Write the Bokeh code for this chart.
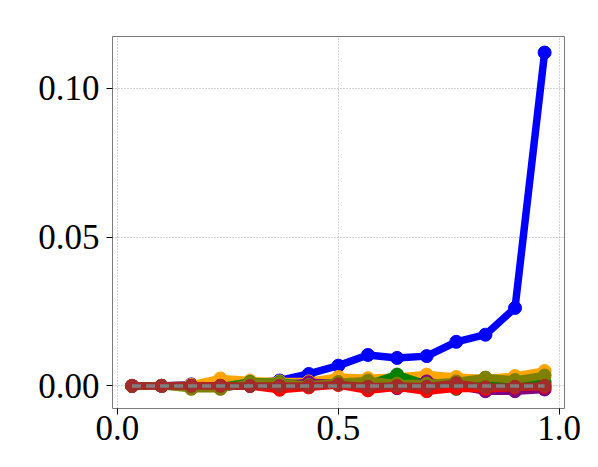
from bokeh.plotting import figure
from bokeh.models import Range1d, FixedTicker
from bokeh.embed import file_html
from bokeh.resources import INLINE

x = [0.033, 0.1, 0.167, 0.233, 0.3, 0.367, 0.433, 0.5, 0.567, 0.633, 0.7, 0.767, 0.833, 0.9, 0.967]
blue = [0.0, 0.0, 0.0005, -0.0008, 0.0008, 0.0018, 0.0040, 0.0068, 0.0104, 0.0094, 0.0100, 0.0148, 0.0172, 0.0262, 0.1120]
orange = [0.0, 0.0, 0.0003, 0.0025, 0.0018, 0.0015, 0.0015, 0.0030, 0.0026, 0.0030, 0.0038, 0.0030, 0.0025, 0.0033, 0.0050]
green = [0.0, 0.0, 0.0, -0.0003, 0.0013, 0.0012, 0.0005, 0.0012, 0.0005, 0.0038, 0.0005, -0.0010, 0.0005, 0.0008, 0.0012]
purple = [0.0, 0.0, 0.0, 0.0, 0.0, 0.0003, 0.0012, 0.0008, 0.0005, -0.0008, 0.0015, 0.0, -0.0018, -0.0018, -0.0012]
red = [0.0, 0.0, 0.0, 0.0, 0.0, -0.0013, -0.0005, 0.0003, -0.0015, -0.0005, -0.0018, -0.0008, -0.0010, -0.0005, -0.0003]
olive = [0.0, 0.0, -0.0010, -0.0010, 0.0011, 0.0010, 0.0003, 0.0012, 0.0018, 0.0008, 0.0008, 0.0015, 0.0028, 0.0020, 0.0035]
brown = [0.0, 0.0, 0.0, 0.0, 0.0, 0.0, 0.0, 0.0005, -0.0003, 0.0, -0.0003, 0.0009, -0.0005, -0.0003, 0.0]
baseline = [0.0, 0.0]
baseline_x = [x[0], x[-1]]

series = [
    (blue, "#0000ff"),
    (orange, "#ffa500"),
    (green, "#008000"),
    (purple, "#800080"),
    (red, "#ff0000"),
    (olive, "#808000"),
    (brown, "#a52a2a"),
]

xticks = [0.0, 0.5, 1.0]
yticks = [0.0, 0.05, 0.10]

p = figure(width=582, height=451, output_backend="svg", toolbar_location=None,
           x_range=Range1d(-0.0113, 1.012), y_range=Range1d(-0.0076, 0.1174),
           min_border_left=112, min_border_right=18, min_border_top=36, min_border_bottom=43)
p.background_fill_color = "white"
p.border_fill_color = "white"
p.outline_line_color = "#7a7a7a"
p.outline_line_width = 1

for ys, c in series:
    p.line(x, ys, line_color=c, line_width=7.5)
    p.scatter(x, ys, size=13, fill_color=c, line_color=c)

p.line(baseline_x, baseline, line_color="#808080", line_width=3.5, line_dash="9 5")

p.xaxis.ticker = FixedTicker(ticks=xticks)
p.yaxis.ticker = FixedTicker(ticks=yticks)
p.xaxis.major_label_overrides = {0.0: "0.0", 0.5: "0.5", 1.0: "1.0"}
p.yaxis.major_label_overrides = {0.0: "0.00", 0.05: "0.05", 0.1: "0.10"}
for ax in (p.xaxis, p.yaxis):
    ax.axis_line_color = None
    ax.major_tick_line_color = "black"
    ax.major_tick_out = 6
    ax.major_tick_in = 0
    ax.minor_tick_line_color = None
    ax.major_label_text_font = "Liberation Serif"
    ax.major_label_text_font_size = "35px"
    ax.major_label_text_color = "black"
p.xaxis.major_label_standoff = 1
p.yaxis.major_label_standoff = 7

p.xgrid.ticker = FixedTicker(ticks=xticks)
p.ygrid.ticker = FixedTicker(ticks=yticks)
p.grid.grid_line_color = "#a8a8a8"
p.grid.grid_line_dash = "1 2"
p.grid.grid_line_width = 1

open("out.html", "w").write(file_html(p, INLINE))
